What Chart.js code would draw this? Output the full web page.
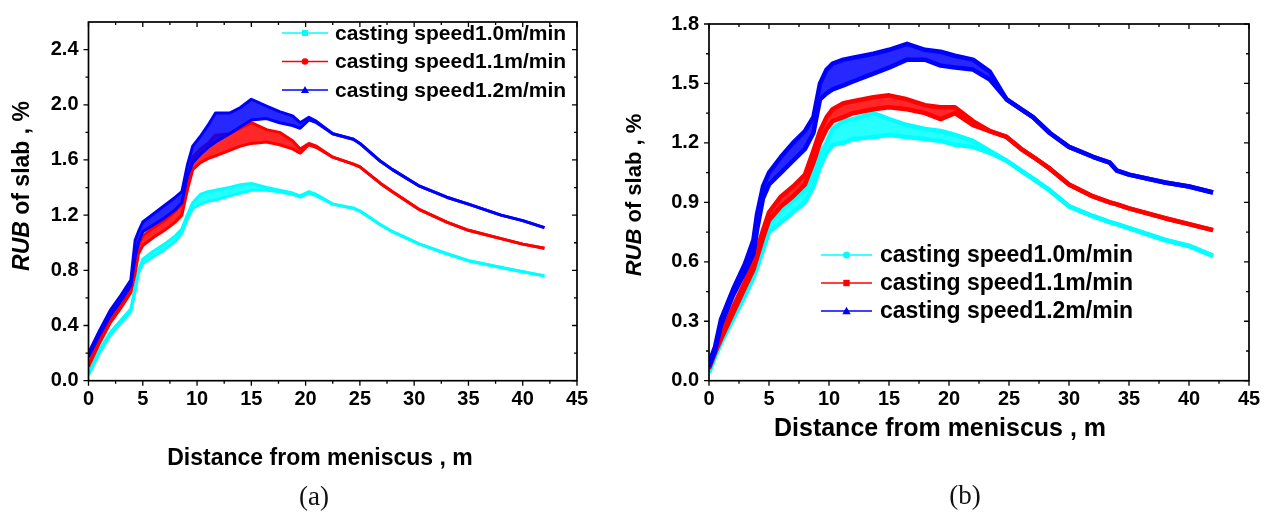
<!DOCTYPE html>
<html><head><meta charset="utf-8">
<script src="https://cdn.jsdelivr.net/npm/chart.js@4.4.0/dist/chart.umd.min.js"></script>
<style>
html,body{margin:0;padding:0;background:#fff;width:1271px;height:515px;overflow:hidden;position:relative}
canvas{position:absolute;top:0}
#ca{left:0}
#cb{left:600px}
.cap{position:absolute;font-family:"Liberation Serif","DejaVu Serif",serif;font-size:27px;color:#111;transform:translateX(-50%);line-height:31px}
</style></head><body>
<canvas id="ca" width="600" height="515"></canvas>
<canvas id="cb" width="671" height="515"></canvas>
<div class="cap" style="left:314px;top:481px">(a)</div>
<div class="cap" style="left:965px;top:480px">(b)</div>
<script>
// ---------- data ----------
const seriesLabels = ['casting speed1.0m/min', 'casting speed1.1m/min', 'casting speed1.2m/min'];
const seriesColors = ['#00ffff', '#ff0000', '#0000ff'];

const xTickValues = [0, 5, 10, 15, 20, 25, 30, 35, 40, 45];
const yTickValuesA = [0, 0.4, 0.8, 1.2, 1.6, 2.0, 2.4];
const yTickValuesB = [0, 0.3, 0.6, 0.9, 1.2, 1.5, 1.8];

// (a)
const xA = [0,1,2,3,3.9,4.3,4.6,5,6,7,8,8.6,9.1,9.6,10.3,11,11.7,13,14,15,16.4,17.6,18.8,19.5,20.3,21,22.5,24.4,25,26.9,28,30.5,33,35,38,40,42];
const cyanA = [0.04,0.2,0.33,0.42,0.5,0.65,0.78,0.85,0.9,0.95,1.01,1.07,1.17,1.25,1.28,1.3,1.31,1.34,1.36,1.38,1.38,1.37,1.35,1.33,1.36,1.34,1.28,1.25,1.23,1.13,1.08,0.99,0.92,0.87,0.82,0.79,0.76];
const cyanAUp = [0.05,0.22,0.35,0.44,0.52,0.68,0.8,0.88,0.94,0.99,1.05,1.1,1.2,1.29,1.35,1.37,1.38,1.40,1.42,1.43,1.40,1.38,1.36,1.34,1.37,1.35,1.28,1.25,1.23,1.13,1.08,0.99,0.92,0.87,0.82,0.79,0.76];
const redA = [0.1,0.27,0.42,0.53,0.64,0.78,0.92,0.98,1.04,1.09,1.15,1.2,1.38,1.53,1.58,1.61,1.63,1.67,1.70,1.72,1.73,1.71,1.68,1.65,1.71,1.69,1.62,1.57,1.55,1.43,1.37,1.24,1.15,1.09,1.03,0.99,0.96];
const redAUp = [0.12,0.29,0.45,0.56,0.67,0.85,0.98,1.05,1.11,1.16,1.23,1.28,1.45,1.62,1.68,1.72,1.78,1.79,1.83,1.87,1.82,1.80,1.74,1.68,1.72,1.70,1.62,1.57,1.55,1.43,1.37,1.24,1.15,1.09,1.03,0.99,0.96];
const blueA = [0.17,0.33,0.47,0.58,0.69,0.9,1.0,1.08,1.13,1.18,1.24,1.29,1.48,1.58,1.64,1.69,1.73,1.79,1.84,1.89,1.90,1.87,1.85,1.83,1.89,1.87,1.79,1.75,1.72,1.59,1.53,1.41,1.33,1.28,1.2,1.16,1.11];
const blueAUp = [0.2,0.36,0.51,0.62,0.73,1.02,1.08,1.15,1.21,1.27,1.33,1.37,1.56,1.70,1.77,1.85,1.94,1.94,1.98,2.04,1.99,1.95,1.92,1.87,1.91,1.88,1.79,1.75,1.72,1.59,1.53,1.41,1.33,1.28,1.2,1.16,1.11];

// (b)
const xB = [0,0.5,1,2,3,3.7,4,4.5,5,6,7,8,8.7,9.25,9.8,10.3,11.2,12,13.7,15,16.5,18,19.3,20.5,22,23.4,24.8,26,27,28.4,30,32,33.4,34,35,38,40,42];
const cyanB = [0.04,0.12,0.19,0.31,0.43,0.52,0.57,0.66,0.75,0.8,0.85,0.9,0.98,1.08,1.15,1.19,1.2,1.22,1.23,1.24,1.23,1.22,1.21,1.19,1.18,1.15,1.11,1.06,1.02,0.96,0.88,0.83,0.8,0.79,0.77,0.71,0.68,0.63];
const cyanBUp = [0.05,0.14,0.21,0.34,0.46,0.56,0.62,0.7,0.79,0.86,0.91,0.96,1.04,1.14,1.2,1.27,1.31,1.32,1.35,1.32,1.29,1.27,1.26,1.24,1.21,1.16,1.11,1.06,1.02,0.96,0.88,0.83,0.8,0.79,0.77,0.71,0.68,0.63];
const redB = [0.06,0.14,0.21,0.34,0.47,0.56,0.62,0.72,0.81,0.88,0.93,0.99,1.1,1.2,1.27,1.31,1.33,1.35,1.37,1.38,1.37,1.35,1.32,1.35,1.29,1.26,1.23,1.17,1.13,1.07,0.99,0.93,0.9,0.89,0.87,0.82,0.79,0.76];
const redBUp = [0.07,0.16,0.23,0.37,0.5,0.6,0.66,0.76,0.85,0.93,0.98,1.04,1.16,1.26,1.33,1.37,1.4,1.41,1.43,1.44,1.42,1.39,1.38,1.38,1.31,1.26,1.23,1.17,1.13,1.07,0.99,0.93,0.9,0.89,0.87,0.82,0.79,0.76];
const blueB = [0.07,0.15,0.28,0.43,0.55,0.64,0.76,0.92,0.99,1.05,1.11,1.17,1.25,1.42,1.45,1.47,1.49,1.51,1.55,1.58,1.62,1.62,1.59,1.58,1.57,1.52,1.42,1.37,1.33,1.25,1.18,1.13,1.1,1.06,1.04,1.0,0.98,0.95];
const blueBUp = [0.09,0.17,0.31,0.46,0.59,0.71,0.84,0.98,1.05,1.13,1.2,1.26,1.33,1.5,1.57,1.6,1.62,1.63,1.65,1.67,1.70,1.67,1.66,1.64,1.62,1.56,1.42,1.37,1.33,1.25,1.18,1.13,1.1,1.06,1.04,1.0,0.98,0.95];

// ---------- drawing ----------
const FONT = '"Liberation Sans", Arial, sans-serif';

function pts(xs, ys) { return xs.map((x, i) => ({ x: x, y: ys[i] })); }

function buildDatasets(xs, lows, ups, lw) {
  const ds = [];
  [2, 1, 0].forEach(k => {
    ds.push({ data: pts(xs, ups[k]), borderColor: seriesColors[k], backgroundColor: seriesColors[k] + 'd8',
      borderWidth: lw, pointRadius: 0, fill: '+1', tension: 0, borderJoinStyle: 'round' });
    ds.push({ data: pts(xs, lows[k]), borderColor: seriesColors[k], backgroundColor: seriesColors[k],
      borderWidth: lw, pointRadius: 0, fill: false, tension: 0, borderJoinStyle: 'round' });
  });
  return ds;
}

function marker(ctx, style, x, y, color, s) {
  ctx.fillStyle = color;
  ctx.beginPath();
  if (style === 'rect') ctx.rect(x - s, y - s, 2 * s, 2 * s);
  else if (style === 'circle') ctx.arc(x, y, s + 0.3, 0, 2 * Math.PI);
  else { ctx.moveTo(x, y - s - 1); ctx.lineTo(x + s + 1, y + s); ctx.lineTo(x - s - 1, y + s); ctx.closePath(); }
  ctx.fill();
}

function decoPlugin(cfg) {
  return {
    id: 'deco',
    afterDraw(chart) {
      const { ctx, chartArea: a, scales: { x, y } } = chart;
      ctx.save();
      ctx.strokeStyle = '#000';
      ctx.lineWidth = 1.7;
      ctx.strokeRect(a.left, a.top, a.right - a.left, a.bottom - a.top);
      ctx.lineWidth = 1.3;
      ctx.beginPath();
      for (let i = 0; i < xTickValues.length; i++) {
        const px = x.getPixelForValue(xTickValues[i]);
        ctx.moveTo(px, a.bottom); ctx.lineTo(px, a.bottom + 5);
        ctx.moveTo(px, a.top); ctx.lineTo(px, a.top + 5);
        if (i < xTickValues.length - 1) {
          const mx = x.getPixelForValue((xTickValues[i] + xTickValues[i + 1]) / 2);
          ctx.moveTo(mx, a.bottom); ctx.lineTo(mx, a.bottom + 3);
          ctx.moveTo(mx, a.top); ctx.lineTo(mx, a.top + 3);
        }
      }
      const yt = cfg.yTicks;
      for (let i = 0; i < yt.length; i++) {
        const py = y.getPixelForValue(yt[i]);
        ctx.moveTo(a.left - 5, py); ctx.lineTo(a.left, py);
        ctx.moveTo(a.right - 5, py); ctx.lineTo(a.right, py);
        const nxt = yt[i] + (yt[1] - yt[0]) / 2;
        if (nxt < y.max - 1e-9) {
          const my = y.getPixelForValue(nxt);
          ctx.moveTo(a.left - 3, my); ctx.lineTo(a.left, my);
          ctx.moveTo(a.right - 3, my); ctx.lineTo(a.right, my);
        }
      }
      ctx.stroke();

      ctx.fillStyle = '#000';
      ctx.translate(cfg.yTitle.x, cfg.yTitle.y);
      ctx.rotate(-Math.PI / 2);
      const f1 = 'italic bold ' + cfg.yTitle.size + 'px ' + FONT;
      const f2 = 'bold ' + cfg.yTitle.size + 'px ' + FONT;
      ctx.font = f1; const w1 = ctx.measureText('RUB').width;
      ctx.font = f2; const w2 = ctx.measureText(' of slab , %').width;
      ctx.textBaseline = 'middle'; ctx.textAlign = 'left';
      ctx.font = f1; ctx.fillText('RUB', -(w1 + w2) / 2, 0);
      ctx.font = f2; ctx.fillText(' of slab , %', -(w1 + w2) / 2 + w1, 0);
      ctx.setTransform(1, 0, 0, 1, 0, 0);

      ctx.font = 'bold ' + cfg.xTitle.size + 'px ' + FONT;
      ctx.textAlign = 'center'; ctx.textBaseline = 'middle';
      ctx.fillText('Distance from meniscus , m', cfg.xTitle.x, cfg.xTitle.y);

      const L = cfg.legend;
      ctx.font = 'bold ' + L.size + 'px ' + FONT;
      ctx.textAlign = 'left';
      for (let k = 0; k < 3; k++) {
        const yy = L.y0 + k * L.dy;
        ctx.strokeStyle = seriesColors[k];
        ctx.lineWidth = 1.6;
        ctx.beginPath(); ctx.moveTo(L.x1, yy); ctx.lineTo(L.x2, yy); ctx.stroke();
        marker(ctx, L.markers[k], (L.x1 + L.x2) / 2, yy, seriesColors[k], L.ms);
        ctx.fillStyle = '#000';
        ctx.fillText(seriesLabels[k], L.tx, yy + 1);
      }
      ctx.restore();
    }
  };
}

function makeChart(id, opts) {
  const canvasH = 515;
  return new Chart(document.getElementById(id), {
    type: 'line',
    data: { datasets: buildDatasets(opts.xs, opts.lows, opts.ups, opts.lw) },
    options: {
      responsive: false, animation: false, devicePixelRatio: 1,
      layout: { padding: { left: opts.padLeft, right: opts.padRight, top: opts.top, bottom: 0 } },
      plugins: { legend: { display: false }, tooltip: { enabled: false } },
      scales: {
        x: {
          type: 'linear', min: 0, max: 45,
          afterBuildTicks: s => { s.ticks = xTickValues.map(v => ({ value: v })); },
          afterFit: s => { s.height = canvasH - opts.bottom; },
          grid: { display: false, drawTicks: false, tickLength: 0 },
          border: { display: false },
          ticks: { font: { family: FONT, size: 20, weight: 'bold' }, color: '#000', padding: 7,
            maxRotation: 0, autoSkip: false, callback: v => String(v) }
        },
        y: {
          type: 'linear', min: 0, max: opts.yMax,
          afterBuildTicks: s => { s.ticks = opts.yTicks.map(v => ({ value: v })); },
          afterFit: s => { s.width = opts.yWidth; },
          grid: { display: false, drawTicks: false, tickLength: 0 },
          border: { display: false },
          ticks: { font: { family: FONT, size: 20, weight: 'bold' }, color: '#000', padding: 10,
            autoSkip: false, callback: v => Number(v).toFixed(1) }
        }
      }
    },
    plugins: [decoPlugin(opts)]
  });
}

makeChart('ca', {
  xs: xA, lows: [cyanA, redA, blueA], ups: [cyanAUp, redAUp, blueAUp], lw: 3,
  padLeft: 0, padRight: 600 - 577, top: 12.7, bottom: 380.7, yWidth: 88.5,
  yMax: 2.6, yTicks: yTickValuesA,
  yTitle: { x: 23, y: 186, size: 23 },
  xTitle: { x: 320, y: 459, size: 23 },
  legend: { x1: 282, x2: 328, tx: 335, y0: 33, dy: 28.5, size: 21, ms: 3, markers: ['rect', 'circle', 'tri'] }
});

makeChart('cb', {
  xs: xB, lows: [cyanB, redB, blueB], ups: [cyanBUp, redBUp, blueBUp], lw: 4.5,
  padLeft: 0, padRight: 671 - 649, top: 24, bottom: 380.7, yWidth: 109,
  yMax: 1.8, yTicks: yTickValuesB,
  yTitle: { x: 35, y: 195, size: 22 },
  xTitle: { x: 340, y: 429, size: 25 },
  legend: { x1: 221, x2: 272, tx: 280, y0: 255, dy: 28, size: 23, ms: 3.2, markers: ['circle', 'rect', 'tri'] }
});
</script>
</body></html>
